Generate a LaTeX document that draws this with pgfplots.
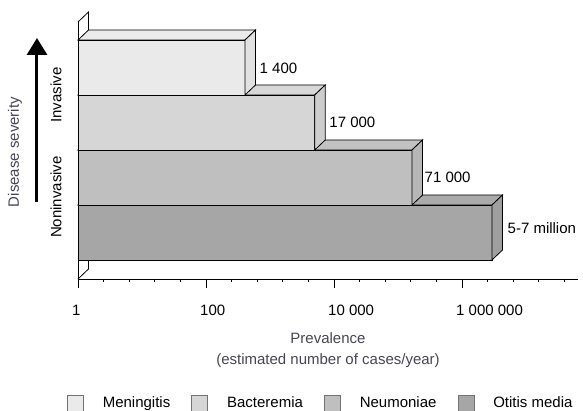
\documentclass[border=0pt]{standalone}
\usepackage{fontspec}
\setmainfont{Liberation Sans}
\usepackage{pgfplots}
\pgfplotsset{compat=1.18}
\usetikzlibrary{arrows.meta}
\definecolor{cM}{HTML}{EAEAEA}
\definecolor{cB}{HTML}{D6D6D6}
\definecolor{cN}{HTML}{BFBFBF}
\definecolor{cO}{HTML}{A6A6A6}
\definecolor{titlegray}{RGB}{72,68,84}
\newcommand{\fs}{\fontsize{15bp}{21bp}\selectfont}
\begin{document}
\begin{tikzpicture}
\useasboundingbox (-78bp,-132bp) rectangle (505bp,279bp);
\begin{axis}[
  at={(0,0)}, anchor=south west,
  scale only axis, width=500bp, height=257bp,
  xmode=log,
  xmin=1, xmax=64938163, ymin=0, ymax=257,
  clip=false,
  axis x line=bottom, axis y line=left,
  axis line style={-, line width=0.8bp, black},
  ytick=\empty,
  xtick={1,100,10000,1000000},
  xticklabels={\mbox{1},\mbox{100},\mbox{10 000},\mbox{1 000 000}},
  minor xtick={2.512,6.310,15.85,39.81,251.2,631.0,1585,3981,25119,63096,158489,398107,2511886,6309573,15848932,39810717},
  tick align=outside,
  major tick length=9bp, minor tick length=3bp,
  tick style={black, line width=0.8bp},
  xticklabel style={font=\fs, anchor=base west, inner sep=0pt, xshift=-6bp, yshift=-27bp},
  xlabel={Prevalence\\(estimated number of cases/year)},
  xlabel style={font=\fs, text=titlegray, align=center, at={(axis description cs:0.5,0)}, anchor=north, inner sep=0pt, yshift=-53bp},
  legend columns=4,
  legend cell align=left,
  legend image code/.code={\draw[#1] (0bp,-8bp) rectangle (16bp,8bp);},
  legend style={draw=none, fill=none, inner sep=0pt, outer sep=0pt,
    at={(axis description cs:-0.022,-0.48249)}, anchor=west, font=\fs,
    nodes={inner sep=0pt},
    /tikz/every odd column/.append style={column sep=19bp},
    /tikz/every even column/.append style={column sep=21bp}},
]
% back wall edges
\addplot[black, line width=0.8bp, forget plot] coordinates {(1,257) (1.4592,267) (1.4592,249)};
\addplot[black, line width=0.8bp, forget plot] coordinates {(1,0) (1.4592,10) (1.4592,19)};
% Otitis media
\addplot[fill=cO, draw=black, line width=0.8bp, forget plot] coordinates {(1,19) (2940000,19) (2940000,74) (1,74)} --cycle;
\addplot[fill=cO!95!white, draw=black, line width=0.8bp, forget plot] coordinates {(1,74) (2940000,74) (4290000,84) (1.4592,84)} --cycle;
\addplot[fill=cO!96!black, draw=black, line width=0.8bp, forget plot] coordinates {(2940000,19) (4290000,29) (4290000,84) (2940000,74)} --cycle;
% Neumoniae
\addplot[fill=cN, draw=black, line width=0.8bp, forget plot] coordinates {(1,74) (165500,74) (165500,129) (1,129)} --cycle;
\addplot[fill=cN!95!white, draw=black, line width=0.8bp, forget plot] coordinates {(1,129) (165500,129) (241500,139) (1.4592,139)} --cycle;
\addplot[fill=cN!96!black, draw=black, line width=0.8bp, forget plot] coordinates {(165500,74) (241500,84) (241500,139) (165500,129)} --cycle;
% Bacteremia
\addplot[fill=cB, draw=black, line width=0.8bp, forget plot] coordinates {(1,129) (5000,129) (5000,184) (1,184)} --cycle;
\addplot[fill=cB!95!white, draw=black, line width=0.8bp, forget plot] coordinates {(1,184) (5000,184) (7296,194) (1.4592,194)} --cycle;
\addplot[fill=cB!96!black, draw=black, line width=0.8bp, forget plot] coordinates {(5000,129) (7296,139) (7296,194) (5000,184)} --cycle;
% Meningitis
\addplot[fill=cM, draw=black, line width=0.8bp, forget plot] coordinates {(1,184) (407,184) (407,239) (1,239)} --cycle;
\addplot[fill=cM!95!white, draw=black, line width=0.8bp, forget plot] coordinates {(1,239) (407,239) (594,249) (1.4592,249)} --cycle;
\addplot[fill=cM!96!black, draw=black, line width=0.8bp, forget plot] coordinates {(407,184) (594,194) (594,249) (407,239)} --cycle;
% value labels
\node[anchor=base west, inner sep=0pt, font=\fs] at ([xshift=4bp]axis cs:594,205.7) {1 400};
\node[anchor=base west, inner sep=0pt, font=\fs] at ([xshift=4bp]axis cs:7296,151) {17 000};
\node[anchor=base west, inner sep=0pt, font=\fs] at ([xshift=2bp]axis cs:241500,96.7) {71 000};
\node[anchor=base west, inner sep=0pt, font=\fs] at ([xshift=5bp]axis cs:4290000,45.7) {5-7 million};
% y-side descriptions
\node[rotate=90, font=\fs, text=titlegray] at ([xshift=-63bp]axis cs:1,127) {Disease severity};
\node[rotate=90, font=\fs] at ([xshift=-22bp]axis cs:1,184) {Invasive};
\node[rotate=90, font=\fs] at ([xshift=-22bp]axis cs:1,82) {Noninvasive};
\draw[line width=3bp, -{Triangle[width=20bp,length=17bp]}] ([xshift=-41bp]axis cs:1,77) -- ([xshift=-41bp]axis cs:1,241);
% legend
\addlegendimage{fill=cM, draw=black!55, line width=0.8bp}
\addlegendentry{Meningitis}
\addlegendimage{fill=cB, draw=black!55, line width=0.8bp}
\addlegendentry{Bacteremia}
\addlegendimage{fill=cN, draw=black!55, line width=0.8bp}
\addlegendentry{Neumoniae}
\addlegendimage{fill=cO, draw=black!55, line width=0.8bp}
\addlegendentry{Otitis media}
\end{axis}
\end{tikzpicture}
\end{document}
